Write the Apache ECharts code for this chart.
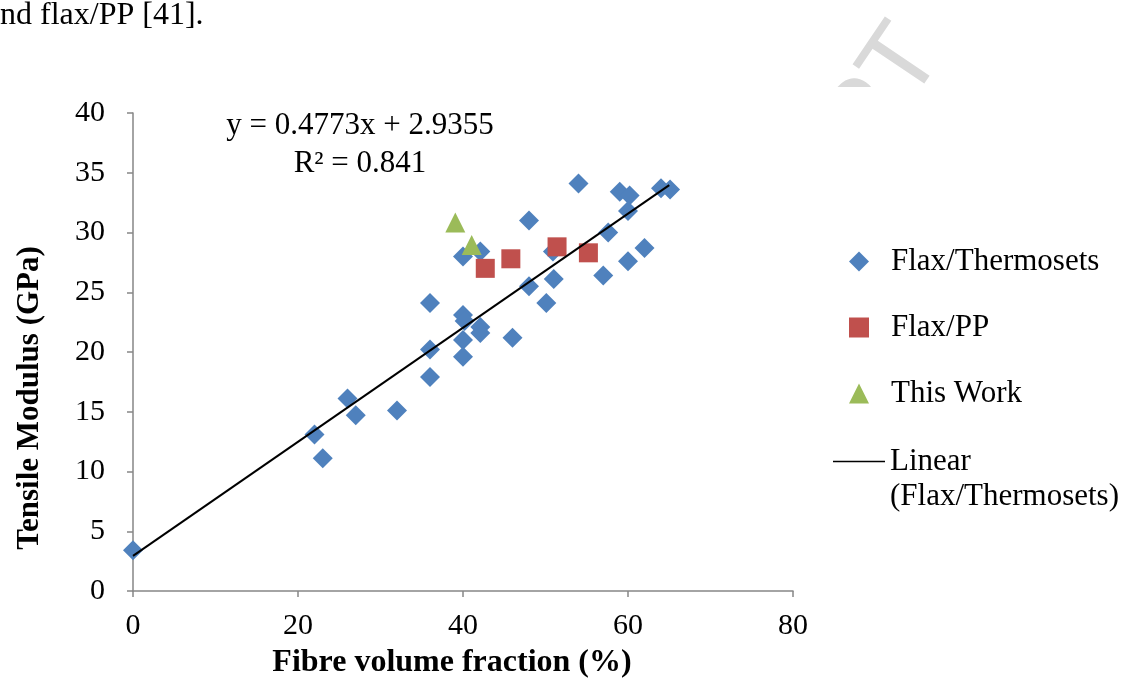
<!DOCTYPE html>
<html>
<head>
<meta charset="utf-8">
<script src="https://cdn.jsdelivr.net/npm/echarts@6/dist/echarts.min.js"></script>
<style>
  html, body { margin: 0; padding: 0; background: #fff; }
  #chart { width: 1129px; height: 679px; }
</style>
</head>
<body>
<div id="chart"></div>
<script>
// values: [fibre volume fraction %, tensile modulus GPa]
const flaxThermosets = [
  [0, 3.4], [22, 13.1], [23, 11.1], [26, 16.1], [27, 14.7], [32, 15.1],
  [36, 17.9], [36, 20.2], [36, 24.1], [40, 19.6], [40, 21.0], [40, 23.1],
  [40.2, 22.6], [40, 28.0], [42.1, 28.4], [42.1, 22.1], [42.1, 21.6],
  [46, 21.2], [48, 25.5], [48, 31.0], [50.1, 24.1], [51, 26.1], [50.9, 28.4],
  [54, 34.1], [57, 26.4], [57.6, 30.0], [59, 33.4], [60.2, 33.1], [60, 31.8],
  [60, 27.6], [62, 28.7], [64, 33.7], [65.1, 33.6]
];
const flaxPP = [[42.7, 27.0], [45.8, 27.8], [51.4, 28.8], [55.2, 28.3]];
const thisWork = [[39.07, 30.84], [41.05, 28.95]];
// trendline endpoints (y = 0.4773x + 2.9355, drawn from x = 0 to 65)
const trendLine = [[0, 2.94], [65, 33.96]];

const xTicks = [0, 20, 40, 60, 80];
const yTicks = [0, 5, 10, 15, 20, 25, 30, 35, 40];

const legendMarkers = ['Flax/Thermosets', 'Flax/PP', 'This Work'];
const legendTrend = ['Linear (Flax/Thermosets)'];
const eqLines = ['y = 0.4773x + 2.9355', 'R² = 0.841'];

const serif = '"Liberation Serif", "Times New Roman", serif';
const axisGray = '#868686';

const chart = echarts.init(document.getElementById('chart'));

const option = {
  backgroundColor: '#fff',
  animation: false,
  textStyle: { fontFamily: serif, color: '#000' },
  grid: { left: 133, right: 336, top: 113, bottom: 88 },
  xAxis: {
    type: 'value',
    min: xTicks[0],
    max: xTicks[xTicks.length - 1],
    interval: xTicks[1] - xTicks[0],
    splitLine: { show: false },
    axisLine: { lineStyle: { color: axisGray, width: 1.5 } },
    axisTick: { length: 6, lineStyle: { color: axisGray, width: 1.5 } },
    axisLabel: { fontSize: 30, fontFamily: serif, color: '#000', margin: 20 }
  },
  yAxis: {
    type: 'value',
    min: yTicks[0],
    max: yTicks[yTicks.length - 1],
    interval: yTicks[1] - yTicks[0],
    splitLine: { show: false },
    axisLine: { show: true, lineStyle: { color: axisGray, width: 1.5 } },
    axisTick: { show: true, length: 6, lineStyle: { color: axisGray, width: 1.5 } },
    axisLabel: { fontSize: 30, fontFamily: serif, color: '#000', margin: 28 }
  },
  legend: [
    {
      data: legendMarkers,
      orient: 'vertical',
      left: 849,
      top: 246,
      padding: 0,
      itemGap: 35,
      itemWidth: 20,
      itemHeight: 20,
      textStyle: {
        fontSize: 31, fontFamily: serif, color: '#000',
        lineHeight: 31, padding: [0, 0, 0, 17]
      }
    },
    {
      data: legendTrend,
      orient: 'vertical',
      left: 833,
      top: 409,
      padding: 0,
      icon: 'rect',
      itemWidth: 52,
      itemHeight: 1.6,
      itemStyle: { color: '#000' },
      formatter: () => '\nLinear\n(Flax/Thermosets)',
      textStyle: { fontSize: 31, fontFamily: serif, color: '#000', lineHeight: 35 }
    }
  ],
  series: [
    {
      name: 'Flax/Thermosets',
      type: 'scatter',
      symbol: 'diamond',
      symbolSize: 20,
      itemStyle: { color: '#4F81BD', opacity: 1 },
      data: flaxThermosets
    },
    {
      name: 'Flax/PP',
      type: 'scatter',
      symbol: 'rect',
      symbolSize: 19,
      itemStyle: { color: '#C0504D', opacity: 1 },
      data: flaxPP
    },
    {
      name: 'This Work',
      type: 'scatter',
      symbol: 'triangle',
      symbolSize: 20,
      itemStyle: { color: '#9BBB59', opacity: 1 },
      data: thisWork
    },
    {
      name: 'Linear (Flax/Thermosets)',
      type: 'line',
      symbol: 'none',
      z: 4,
      silent: true,
      lineStyle: { color: '#000', width: 2 },
      itemStyle: { color: '#000' },
      data: trendLine
    }
  ],
  graphic: [
    // faded "ACCEPTED MANUSCRIPT" watermark, mostly hidden behind the chart
    {
      type: 'text', z: -2, x: 921, y: 38, rotation: 56 * Math.PI / 180,
      style: {
        text: 'ACCEPTED MANUSCRIPT', fill: '#d9d9d9',
        font: '102px "Liberation Sans", Arial, sans-serif',
        textAlign: 'right', textVerticalAlign: 'middle'
      }
    },
    {
      type: 'rect', z: -1, x: 0, y: 87,
      shape: { width: 1129, height: 592 },
      style: { fill: '#fff' }
    },
    {
      type: 'text', x: 0, y: 16,
      style: {
        text: 'nd flax/PP [41].', fill: '#000',
        font: '32px ' + serif, textVerticalAlign: 'middle'
      }
    },
    {
      type: 'text', x: 360, y: 126,
      style: {
        text: eqLines[0], fill: '#000', font: '31px ' + serif,
        textAlign: 'center', textVerticalAlign: 'middle'
      }
    },
    {
      type: 'text', x: 360, y: 164,
      style: {
        text: eqLines[1], fill: '#000', font: '31px ' + serif,
        textAlign: 'center', textVerticalAlign: 'middle'
      }
    },
    {
      type: 'text', x: 452, y: 663,
      style: {
        text: 'Fibre volume fraction (%)', fill: '#000',
        font: 'bold 32px ' + serif,
        textAlign: 'center', textVerticalAlign: 'middle'
      }
    },
    {
      type: 'text', x: 30, y: 398, rotation: Math.PI / 2,
      style: {
        text: 'Tensile Modulus (GPa)', fill: '#000',
        font: 'bold 31px ' + serif,
        textAlign: 'center', textVerticalAlign: 'middle'
      }
    }
  ]
};

chart.setOption(option);
</script>
</body>
</html>
